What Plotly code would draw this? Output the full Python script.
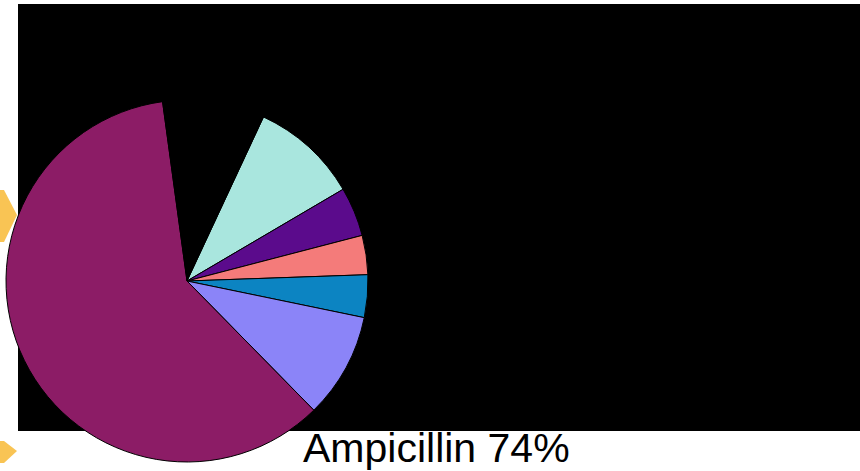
import plotly.graph_objects as go

# Slice data (order clockwise, starting from the light-cyan slice)
slice_labels = ["Slice A", "Slice B", "Slice C", "Slice D", "Slice E", "Ampicillin", "Other"]
slice_values = [9.6, 4.4, 3.5, 3.8, 9.4, 60.2, 9.1]
slice_colors = ["#A9E6DE", "#5B0B8C", "#F47B7A", "#0C84C2", "#8B84F8", "#8C1C66", "#000000"]
caption_text = "Ampicillin 74%"

W, H = 860, 471

fig = go.Figure()

# pie centred at pixel (187, 281), radius ~181
cx, cy, r = 187, 281, 181
fig.add_trace(go.Pie(
    labels=slice_labels,
    values=slice_values,
    sort=False,
    direction="clockwise",
    rotation=25,
    marker=dict(colors=slice_colors, line=dict(color="#000000", width=1)),
    textinfo="none",
    hoverinfo="label+percent",
    showlegend=False,
    domain=dict(x=[(cx - r) / W, (cx + r) / W], y=[1 - (cy + r) / H, 1 - (cy - r) / H]),
))

# black backdrop rectangle
fig.add_shape(type="rect", xref="paper", yref="paper",
              x0=18 / W, x1=1.0, y0=1 - 431 / H, y1=1 - 4 / H,
              fillcolor="#000000", line=dict(width=0), layer="below")

# orange arrow decorations at the left edge
def p(px, py):
    return f"{px / W},{1 - py / H}"

arrow1 = f"M {p(0,190)} L {p(4,190)} L {p(17,215)} L {p(4,242)} L {p(0,242)} Z"
arrow2 = f"M {p(0,441)} L {p(4,441)} L {p(17,451)} L {p(4,463)} L {p(0,463)} Z"
for path in (arrow1, arrow2):
    fig.add_shape(type="path", xref="paper", yref="paper", path=path,
                  fillcolor="#F9C454", line=dict(width=0), layer="above")

fig.add_annotation(text=caption_text, xref="paper", yref="paper",
                   x=436 / W, y=1 - 448 / H, showarrow=False,
                   xanchor="center", yanchor="middle",
                   font=dict(family="Liberation Sans, Arial, sans-serif", size=41, color="#000000"))

fig.update_layout(width=W, height=H, margin=dict(l=0, r=0, t=0, b=0),
                  paper_bgcolor="#FFFFFF", plot_bgcolor="#FFFFFF")

fig.write_html("out.html")
